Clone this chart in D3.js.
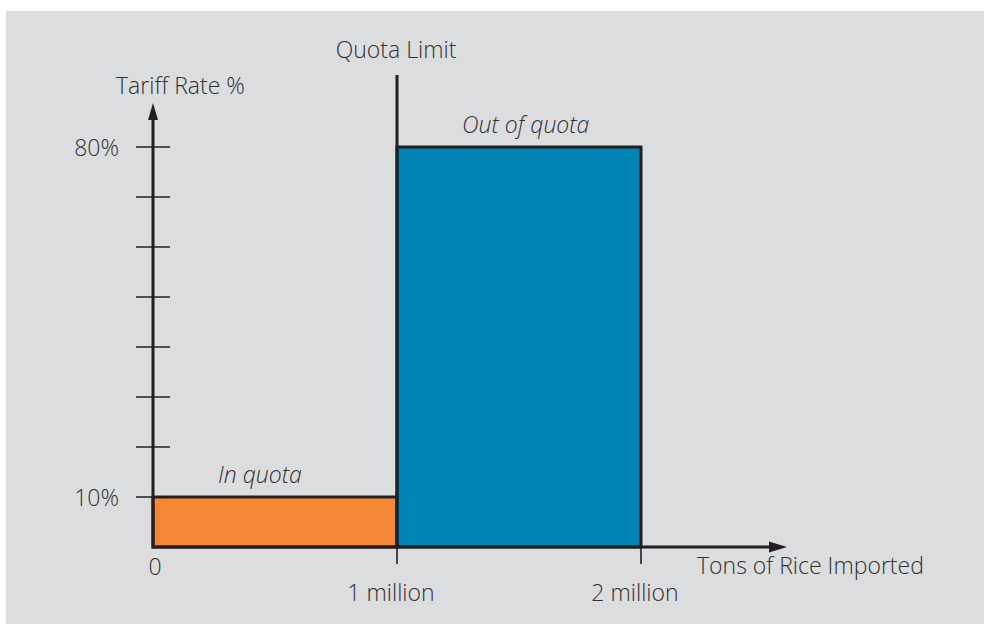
<!DOCTYPE html>
<html>
<head>
<meta charset="utf-8">
<script src="https://cdn.jsdelivr.net/npm/d3@7"></script>
<style>
  body { margin: 0; background: #fff; }
  svg text { font-family: "Open Sans", "Lato", sans-serif; font-weight: 300; fill: #333132; }
</style>
</head>
<body>
<svg id="chart"></svg>
<script>
// tariff-rate quota: two segments of imports
let segmentNames = ["In quota", "Out of quota"];
let segmentStart = [0, 1];      // million tons
let segmentEnd = [1, 2];        // million tons
let segmentRate = [10, 80];     // tariff %
let segmentColors = ["#f48837", "#0084b6"];

let quotaLimit = 1;
let yTickValues = [10, 20, 30, 40, 50, 60, 70, 80];
let yTickLabels = ["10%", "", "", "", "", "", "", "80%"];
let xTickValues = [0, 1, 2];
let xTickLabels = ["0", "1 million", "2 million"];

function getConfig() {
  let width = 984;
  let height = 624;
  let fontSize = 23;
  let container = d3.select("#chart")
    .attr("width", width)
    .attr("height", height);
  return { width, height, fontSize, container };
}

function getScales() {
  let x = d3.scaleLinear().domain([0, 2]).range([153, 641]);
  let y = d3.scaleLinear().domain([0, 10]).range([547, 497]);
  return { x, y };
}

function drawChart(config, scales) {
  let { container, fontSize } = config;
  let { x, y } = scales;
  let ink = "#231f20";

  // grey panel
  container.append("rect")
    .attr("x", 6).attr("y", 11)
    .attr("width", 978).attr("height", 613)
    .attr("fill", "#dcdddf");

  let segs = segmentNames.map((name, i) => ({
    name, start: segmentStart[i], end: segmentEnd[i], rate: segmentRate[i], color: segmentColors[i]
  }));

  container.selectAll("rect.seg")
    .data(segs)
    .enter()
    .append("rect")
    .attr("class", "seg")
    .attr("x", d => x(d.start))
    .attr("y", d => y(d.rate))
    .attr("width", d => x(d.end) - x(d.start))
    .attr("height", d => y(0) - y(d.rate))
    .attr("fill", d => d.color)
    .attr("stroke", ink)
    .attr("stroke-width", 3);

  container.selectAll("text.seg")
    .data(segs)
    .enter()
    .append("text")
    .attr("class", "seg")
    .attr("x", d => x(d.start) + 65)
    .attr("y", d => y(d.rate) - 14)
    .attr("font-size", fontSize)
    .attr("font-style", "italic")
    .text(d => d.name);

  // quota limit line
  container.append("line")
    .attr("x1", x(quotaLimit)).attr("x2", x(quotaLimit))
    .attr("y1", 75).attr("y2", y(0))
    .attr("stroke", ink).attr("stroke-width", 3);
  container.append("text")
    .attr("x", x(quotaLimit) - 1)
    .attr("y", 58)
    .attr("text-anchor", "middle")
    .attr("font-size", fontSize)
    .text("Quota Limit");

  // y ticks
  container.selectAll("line.ytick")
    .data(yTickValues)
    .enter()
    .append("line")
    .attr("class", "ytick")
    .attr("x1", x(0) - 17).attr("x2", x(0) + 17)
    .attr("y1", d => y(d)).attr("y2", d => y(d))
    .attr("stroke", ink).attr("stroke-width", 1.6);
  container.selectAll("text.ytick")
    .data(yTickValues)
    .enter()
    .append("text")
    .attr("class", "ytick")
    .attr("x", x(0) - 34)
    .attr("y", d => y(d) + 9)
    .attr("text-anchor", "end")
    .attr("font-size", fontSize)
    .text((d, i) => yTickLabels[i]);

  // x ticks
  container.selectAll("line.xtick")
    .data(xTickValues.slice(1))
    .enter()
    .append("line")
    .attr("class", "xtick")
    .attr("x1", d => x(d)).attr("x2", d => x(d))
    .attr("y1", y(0)).attr("y2", y(0) + 17)
    .attr("stroke", ink).attr("stroke-width", 1.6);
  container.selectAll("text.xtick")
    .data(xTickValues)
    .enter()
    .append("text")
    .attr("class", "xtick")
    .attr("x", d => x(d) + (d === 0 ? 2 : -6))
    .attr("y", (d, i) => i === 0 ? 575 : 601)
    .attr("text-anchor", "middle")
    .attr("font-size", fontSize)
    .text((d, i) => xTickLabels[i]);

  // axes with arrowheads
  container.append("line")
    .attr("x1", x(0)).attr("x2", 772)
    .attr("y1", y(0)).attr("y2", y(0))
    .attr("stroke", ink).attr("stroke-width", 3);
  container.append("path")
    .attr("d", `M787,${y(0)} L769,${y(0) - 5.5} L769,${y(0) + 5.5} Z`)
    .attr("fill", ink);

  container.append("line")
    .attr("x1", x(0)).attr("x2", x(0))
    .attr("y1", y(0) + 1.5).attr("y2", 118)
    .attr("stroke", ink).attr("stroke-width", 3);
  container.append("path")
    .attr("d", `M${x(0)},103 L${x(0) - 5},120 L${x(0) + 5},120 Z`)
    .attr("fill", ink);

  container.append("text")
    .attr("x", 116).attr("y", 94)
    .attr("font-size", fontSize)
    .text("Tariff Rate %");
  container.append("text")
    .attr("x", 697).attr("y", 574)
    .attr("font-size", fontSize)
    .text("Tons of Rice Imported");
}

let config = getConfig();
let scales = getScales();
drawChart(config, scales);
</script>
</body>
</html>
